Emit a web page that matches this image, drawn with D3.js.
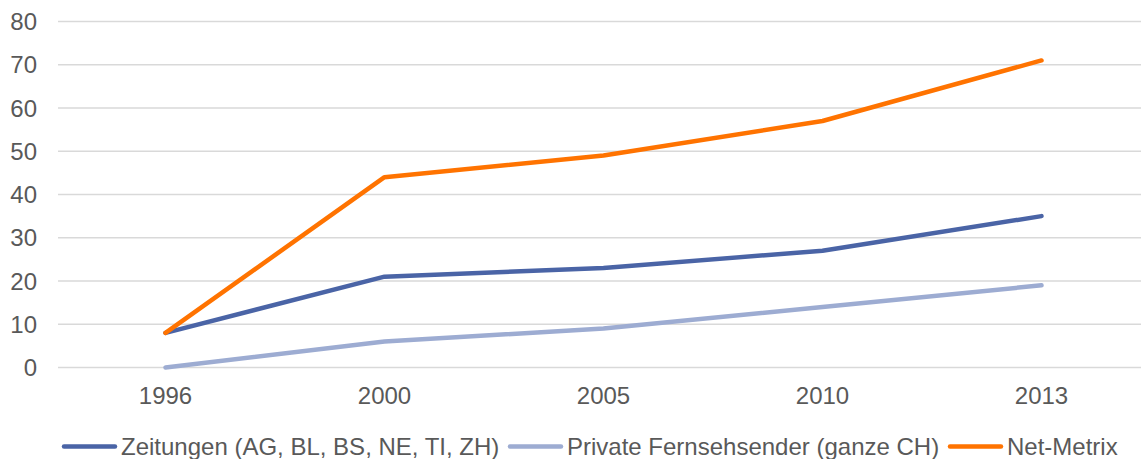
<!DOCTYPE html>
<html>
<head>
<meta charset="utf-8">
<script src="https://cdn.jsdelivr.net/npm/d3@7"></script>
<style>
  html, body { margin: 0; padding: 0; background: #fff; }
  svg { display: block; font-family: "Liberation Sans", Arial, sans-serif; }
</style>
</head>
<body>
<svg id="chart" width="1141" height="459"></svg>
<script>
// Survey years and series values
const years = ["1996", "2000", "2005", "2010", "2013"];
const zeitungen = [8, 21, 23, 27, 35];
const privateTV = [0, 6, 9, 14, 19];
const netMetrix = [8, 44, 49, 57, 71];
const yTicks = [0, 10, 20, 30, 40, 50, 60, 70, 80];
const seriesNames = ["Zeitungen (AG, BL, BS, NE, TI, ZH)", "Private Fernsehsender (ganze CH)", "Net-Metrix"];

const series = [
  { name: seriesNames[0], values: zeitungen, color: "#4a64a6" },
  { name: seriesNames[1], values: privateTV, color: "#9dacd2" },
  { name: seriesNames[2], values: netMetrix, color: "#ff7300" }
];

const svg = d3.select("#chart");
const textColor = "#595959";
const fontSize = 24;

const x = d3.scaleBand().domain(years).range([56, 1151]);
const y = d3.scaleLinear().domain([0, 80]).range([367.5, 21.5]);

// Horizontal gridlines
svg.append("g").selectAll("line").data(yTicks).join("line")
  .attr("x1", 58).attr("x2", 1141)
  .attr("y1", d => y(d)).attr("y2", d => y(d))
  .attr("stroke", "#d9d9d9").attr("stroke-width", 1.5);

// Y tick labels
svg.append("g").selectAll("text").data(yTicks).join("text")
  .attr("x", 37).attr("y", d => y(d) + 8.5)
  .attr("text-anchor", "end")
  .attr("font-size", fontSize).attr("fill", textColor)
  .text(d => d);

// X tick labels
svg.append("g").selectAll("text").data(years).join("text")
  .attr("x", d => x(d) + x.bandwidth() / 2).attr("y", 404)
  .attr("text-anchor", "middle")
  .attr("font-size", fontSize).attr("fill", textColor)
  .text(d => d);

// Series lines
const line = d3.line()
  .x((d, i) => x(years[i]) + x.bandwidth() / 2)
  .y(d => y(d));

svg.append("g").selectAll("path").data(series).join("path")
  .attr("d", s => line(s.values))
  .attr("fill", "none")
  .attr("stroke", s => s.color)
  .attr("stroke-width", 4.5)
  .attr("stroke-linecap", "round")
  .attr("stroke-linejoin", "round");

// Legend
const legendX = [62, 508, 948];
const leg = svg.append("g").selectAll("g").data(series).join("g")
  .attr("transform", (s, i) => `translate(${legendX[i]},446.5)`);
leg.append("line")
  .attr("x1", 2).attr("x2", 53)
  .attr("stroke", s => s.color).attr("stroke-width", 4.5)
  .attr("stroke-linecap", "round");
leg.append("text")
  .attr("x", 59).attr("y", 8.5)
  .attr("font-size", fontSize).attr("fill", textColor)
  .text(s => s.name);
</script>
</body>
</html>
